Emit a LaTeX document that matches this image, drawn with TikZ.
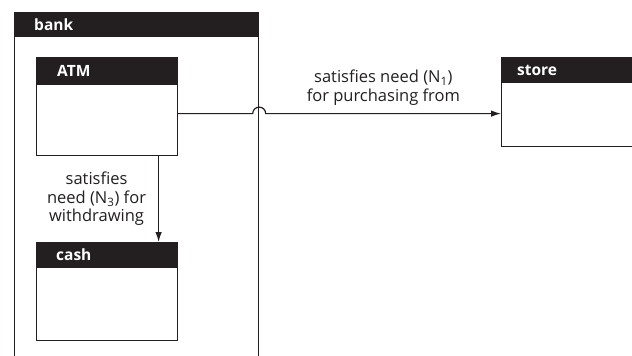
\documentclass[tikz,border=0pt]{standalone}
\usepackage{fontspec}
\setmainfont{Open Sans}
\usetikzlibrary{positioning,arrows.meta}
\definecolor{ink}{HTML}{231F20}
\begin{document}
\begin{tikzpicture}[x=1pt,y=-1pt,
    box/.style = {draw=ink, line width=1.2pt, fill=white, inner sep=0pt, anchor=north west},
    headfill/.style = {fill=ink},
    headtext/.style = {anchor=west, text=white, inner sep=0pt, font=\bfseries\fontsize{15.5}{18}\selectfont},
    lbl/.style = {align=center, inner sep=0pt, text=ink, font=\fontsize{16.5}{18.5}\selectfont},
    arrow/.style = {draw=ink, line width=1.2pt, -{Latex[length=10pt,width=6.5pt]}}]
    \useasboundingbox (0,0) rectangle (632,356);
    \clip (0,0) rectangle (632,356);

    % boxes
    \node[box, minimum width=244pt, minimum height=360pt] (bank) at (14,12) {};
    \node[box, minimum width=141pt, minimum height=98pt]  (atm)  at (36,57) {};
    \node[box, minimum width=141pt, minimum height=98pt]  (cash) at (36,242) {};
    \node[box, minimum width=150pt, minimum height=89pt]  (store) at (501,57) {};

    % header bars
    \fill[headfill] (bank.north west) rectangle ([yshift=-25pt]bank.north east);
    \node[headtext] (bankname) at ([xshift=20pt,yshift=-12.5pt]bank.north west) {bank};
    \fill[headfill] (atm.north west) rectangle ([yshift=-28pt]atm.north east);
    \node[headtext] (atmname) at ([xshift=21pt,yshift=-14pt]atm.north west) {ATM};
    \fill[headfill] (cash.north west) rectangle ([yshift=-26pt]cash.north east);
    \node[headtext] (cashname) at ([xshift=20pt,yshift=-13pt]cash.north west) {cash};
    \fill[headfill] (store.north west) rectangle ([yshift=-26pt]store.north east);
    \node[headtext] (storename) at ([xshift=16pt,yshift=-13pt]store.north west) {store};

    % connectors
    \coordinate (atmout) at ([yshift=-7pt]atm.east);
    \coordinate (jumpin) at ([xshift=-6.5pt]bank.east |- atmout);
    \coordinate (jumpout) at ([xshift=6.5pt]bank.east |- atmout);
    \coordinate (storein) at (store.west |- atmout);
    \draw[arrow] (atmout) -- (jumpin) arc[start angle=180, end angle=0, radius=6.5pt]
        -- node[lbl, above=8pt] {satisfies need (N\textsubscript{1})\\for purchasing from} (storein);

    \coordinate (atmdown) at ([xshift=51.5pt]atm.south);
    \coordinate (cashin) at (atmdown |- cash.north);
    \draw[arrow] (atmdown) -- node[lbl, left=12pt] {satisfies\\need (N\textsubscript{3}) for\\withdrawing} (cashin);
\end{tikzpicture}
\end{document}
